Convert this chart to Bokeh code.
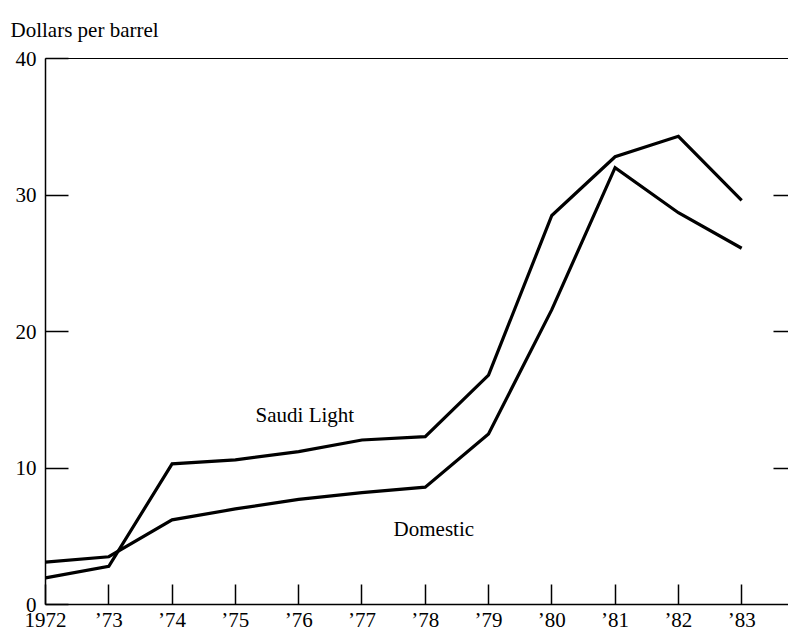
from bokeh.plotting import figure
from bokeh.models import LinearAxis, FixedTicker, Range1d, Title
from bokeh.core.properties import value
from bokeh.embed import file_html
from bokeh.resources import INLINE

years = [1972, 1973, 1974, 1975, 1976, 1977, 1978, 1979, 1980, 1981, 1982, 1983]
year_labels = ["1972", "\u201973", "\u201974", "\u201975", "\u201976", "\u201977",
               "\u201978", "\u201979", "\u201980", "\u201981", "\u201982", "\u201983"]
saudi_light = [1.95, 2.8, 10.3, 10.6, 11.2, 12.05, 12.3, 16.8, 28.5, 32.8, 34.3, 29.6]
domestic = [3.1, 3.5, 6.2, 7.0, 7.7, 8.2, 8.6, 12.5, 21.6, 32.0, 28.7, 26.1]
y_ticks = [0, 10, 20, 30, 40]
right_ticks = [10, 20, 30]

FONT = "Liberation Serif"

p = figure(width=788, height=634, output_backend="svg", toolbar_location=None,
           x_range=Range1d(1972, 1983.74), y_range=Range1d(0, 40),
           min_border_left=45, min_border_right=0, min_border_top=58, min_border_bottom=24)
p.outline_line_color = None
p.grid.visible = False
p.background_fill_color = "white"
p.border_fill_color = "white"

# top axis: border line only (added first so it sits against the frame)
ta = LinearAxis(ticker=FixedTicker(ticks=[]), major_tick_in=0, major_tick_out=0,
                minor_tick_line_color=None, axis_line_color="black", axis_line_width=1,
                major_label_standoff=0)
p.add_layout(ta, "above")

t = Title(text="Dollars per barrel", text_font=FONT, text_font_size="21px",
          text_font_style="normal", text_color="black", align="left", offset=-35,
          standoff=30, vertical_align="top")
p.add_layout(t, "above")

# bottom axis
xa = p.below[0]
xa.ticker = FixedTicker(ticks=years)
xa.major_label_overrides = {y: l for y, l in zip(years, year_labels)}
xa.major_tick_in = 20
xa.major_tick_out = 0
xa.minor_tick_line_color = None
xa.axis_line_width = 1.5
xa.major_tick_line_width = 1.5
xa.major_label_text_font = FONT
xa.major_label_text_font_size = "21px"
xa.major_label_text_color = "black"
xa.major_label_standoff = 3
xa.axis_line_color = "black"
xa.major_tick_line_color = "black"

# left axis
ya = p.left[0]
ya.ticker = FixedTicker(ticks=y_ticks)
ya.major_tick_in = 23
ya.major_tick_out = 0
ya.minor_tick_line_color = None
ya.axis_line_width = 1.5
ya.major_tick_line_width = 1.5
ya.major_label_text_font = FONT
ya.major_label_text_font_size = "21px"
ya.major_label_text_color = "black"
ya.major_label_standoff = 9
ya.axis_line_color = "black"
ya.major_tick_line_color = "black"

# right axis: inward ticks only
ra = LinearAxis(ticker=FixedTicker(ticks=right_ticks), major_tick_in=15, major_tick_out=0,
                minor_tick_line_color=None, axis_line_color=None,
                major_label_overrides={v: "" for v in right_ticks}, major_label_standoff=0,
                major_tick_line_width=1.5, major_tick_line_color="black")
p.add_layout(ra, "right")

p.line(years, saudi_light, line_color="black", line_width=3.2, line_join="miter")
p.line(years, domestic, line_color="black", line_width=3.2, line_join="miter")

p.text(x=[1975.32], y=[13.9], text=["Saudi Light"], text_font=value(FONT),
       text_font_size="21px", text_color="black", text_align="left", text_baseline="alphabetic")
p.text(x=[1977.5], y=[5.5], text=["Domestic"], text_font=value(FONT),
       text_font_size="21px", text_color="black", text_align="left", text_baseline="alphabetic")

open("out.html", "w").write(file_html(p, INLINE))
